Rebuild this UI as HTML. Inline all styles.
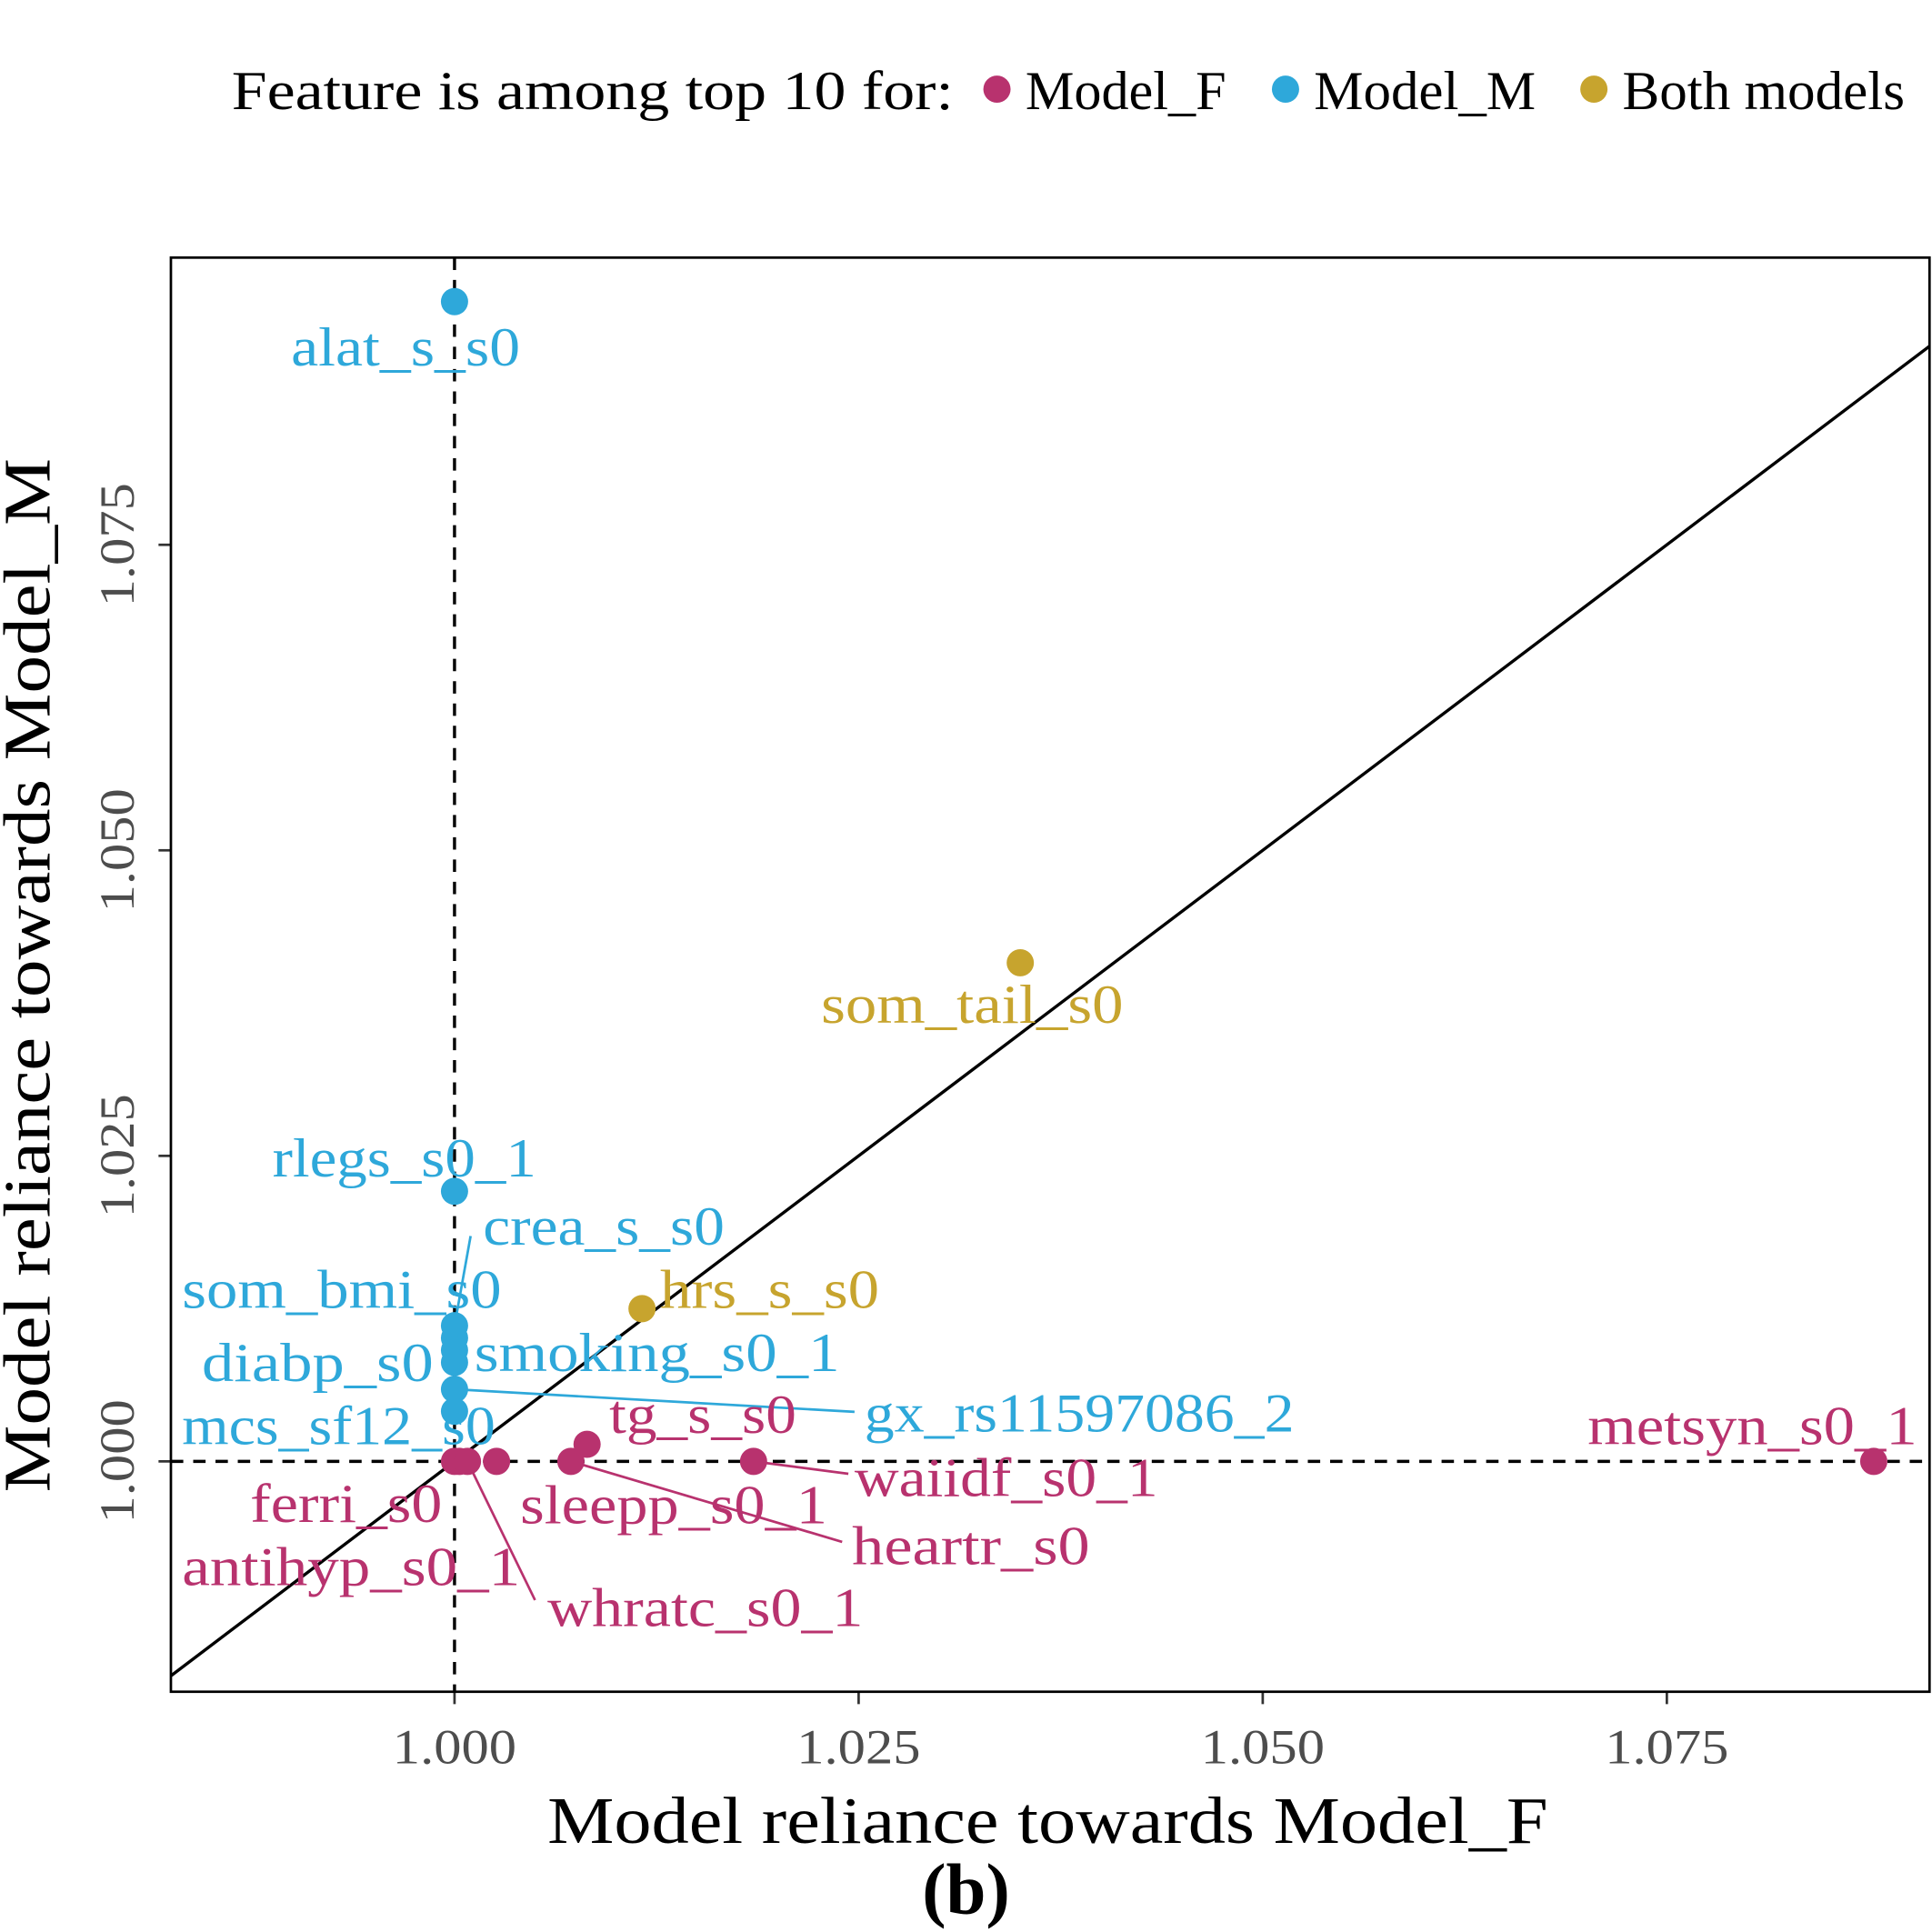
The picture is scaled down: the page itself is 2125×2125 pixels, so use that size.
<!DOCTYPE html>
<html><head><meta charset="utf-8"><style>
html,body{margin:0;padding:0;background:#fff}
svg{display:block;font-family:"Liberation Serif",serif}
</style></head><body>
<svg id="chart" width="2125" height="2125" viewBox="0 0 1560 1560" xmlns="http://www.w3.org/2000/svg">
<g>
<text x="187" y="88" font-size="44" fill="#000" textLength="583" lengthAdjust="spacingAndGlyphs">Feature is among top 10 for:</text>
<circle cx="805" cy="72" r="11" fill="#B8326E"/>
<text x="828" y="88" font-size="44" textLength="162" lengthAdjust="spacingAndGlyphs">Model_F</text>
<circle cx="1038" cy="72" r="11" fill="#2EA8DA"/>
<text x="1061" y="88" font-size="44" textLength="179" lengthAdjust="spacingAndGlyphs">Model_M</text>
<circle cx="1287" cy="72" r="11" fill="#C7A42E"/>
<text x="1310" y="88" font-size="44" textLength="228" lengthAdjust="spacingAndGlyphs">Both models</text>
</g>
<g id="plot"></g>
<rect x="138" y="208" width="1420" height="1158" fill="none" stroke="#000" stroke-width="2"/>
<text x="442" y="1488" font-size="54" textLength="808" lengthAdjust="spacingAndGlyphs">Model reliance towards Model_F</text>
<text transform="translate(40,1205) rotate(-90)" font-size="54" textLength="835" lengthAdjust="spacingAndGlyphs">Model reliance towards Model_M</text>
<text x="780" y="1545" font-size="58" font-weight="bold" text-anchor="middle">(b)</text>
</svg>
<script>
const xTicks=[1.000,1.025,1.050,1.075];
const yTicks=[1.000,1.025,1.050,1.075];
const tickLabels=["1.000","1.025","1.050","1.075"];
const names=["alat_s_s0","som_tail_s0","hrs_s_s0","rlegs_s0_1","crea_s_s0","som_bmi_s0","smoking_s0_1","diabp_s0","gx_rs11597086_2","mcs_sf12_s0","ferri_s0","antihyp_s0_1","whratc_s0_1","sleepp_s0_1","tg_s_s0","heartr_s0","waiidf_s0_1","metsyn_s0_1"];
const xVals=[1.000,1.035,1.0116,1.000,1.000,1.000,1.000,1.000,1.000,1.000,1.000,1.0003,1.0008,1.0026,1.0082,1.0072,1.0185,1.0878];
const yVals=[1.0949,1.0408,1.0125,1.0221,1.0111,1.0101,1.0091,1.0081,1.0059,1.0041,1.000,1.000,1.000,1.000,1.0014,1.000,1.000,1.000];
const groups=["M","B","B","M","M","M","M","M","M","M","F","F","F","F","F","F","F","F"];
const colors={F:"#B8326E",M:"#2EA8DA",B:"#C7A42E"};
const labelXY=[[235,295],[663,826],[533,1056],[220,950],[390,1005],[147,1056],[383,1107],[163,1115],[698,1156],[147,1166],[202,1229],[147,1280],[442,1313],[420,1230],[492,1157],[688,1263],[690,1208],[1282,1166]];
const labelW=[185,244,177,213,195,258,295,187,347,253,155,273,255,248,151,192,245,266];
const leaders={4:[380,998],8:[690,1140],12:[432,1292],15:[680,1245],16:[685,1190]};
const X=v=>367+(v-1)/0.025*326.3;
const Y=v=>1180-(v-1)/0.025*246.7;
const NS="http://www.w3.org/2000/svg";
const g=document.getElementById('plot');
function mk(t,a){const e=document.createElementNS(NS,t);for(const k in a)e.setAttribute(k,a[k]);g.appendChild(e);return e;}
let e;
const xmin=1+(138-367)/326.3*0.025, xmax=1+(1558-367)/326.3*0.025;
e=mk('line',{x1:X(xmin),y1:Y(xmin),x2:X(xmax),y2:Y(xmax),stroke:'#000','stroke-width':2.5});


e=mk('line',{x1:X(1),y1:208,x2:X(1),y2:1366,stroke:'#000','stroke-width':2.5,'stroke-dasharray':'10,8'});


e=mk('line',{x1:138,y1:Y(1),x2:1558,y2:Y(1),stroke:'#000','stroke-width':2.5,'stroke-dasharray':'10,8'});


xTicks.forEach((t,i)=>{
 e=mk('line',{x1:X(t),y1:1366,x2:X(t),y2:1376,stroke:'#333','stroke-width':2});
 
 
 e=mk('text',{x:X(t)-50,y:1424,'font-size':40,fill:'#4d4d4d',textLength:100,lengthAdjust:'spacingAndGlyphs'});e.textContent=tickLabels[i];
 
 
});
yTicks.forEach((t,i)=>{
 e=mk('line',{x1:128,y1:Y(t),x2:138,y2:Y(t),stroke:'#333','stroke-width':2});
 
 
 e=mk('text',{transform:`translate(108,${Y(t)+50}) rotate(-90)`,'font-size':40,fill:'#4d4d4d',textLength:100,lengthAdjust:'spacingAndGlyphs'});e.textContent=tickLabels[i];
 
 
});
names.forEach((n,i)=>{
 const c=colors[groups[i]];
 if(leaders[i]){
  e=mk('line',{x1:X(xVals[i]),y1:Y(yVals[i]),x2:leaders[i][0],y2:leaders[i][1],stroke:c,'stroke-width':2});
  
  
 }
});
names.forEach((n,i)=>{
 const c=colors[groups[i]];
 e=mk('circle',{cx:X(xVals[i]),cy:Y(yVals[i]),r:11,fill:c});
 
 
});
names.forEach((n,i)=>{
 const c=colors[groups[i]];
 const p=labelXY[i];
 e=mk('text',{x:p[0],y:p[1],'font-size':44,fill:c,textLength:labelW[i],lengthAdjust:'spacingAndGlyphs'});
 e.textContent=n;
 
 
});
</script>
</body></html>
